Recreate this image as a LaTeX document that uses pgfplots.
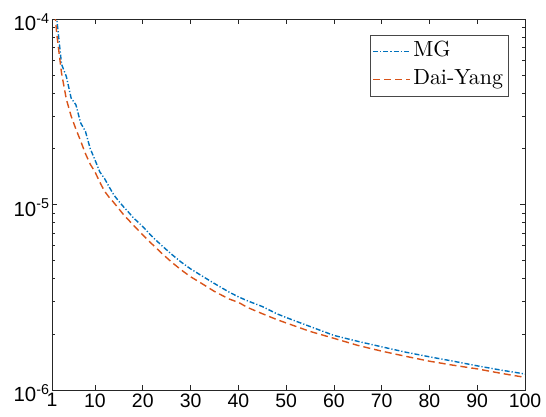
\documentclass[border=0pt]{standalone}
\usepackage{pgfplots}
\pgfplotsset{compat=1.18}
\usepackage{fontspec}
\newfontfamily\arial{Liberation Sans}
\newfontfamily\lmten{lmroman10-regular}[Extension=.otf]
\newcommand{\legfont}{\lmten\fontsize{22}{24}\selectfont}
\definecolor{mgblue}{rgb}{0,0.447,0.741}
\definecolor{dyorange}{rgb}{0.85,0.325,0.098}
\definecolor{axgray}{rgb}{0.15,0.15,0.15}
\tikzset{
  mgstyle/.style={draw=mgblue, line width=1.4bp, dash pattern=on 5bp off 2bp on 1.2bp off 2bp},
  dystyle/.style={draw=dyorange, line width=1.4bp, dash pattern=on 7bp off 4bp},
}
\begin{document}
\begin{tikzpicture}
\begin{axis}[
  scale only axis,
  width=473bp, height=371bp,
  ymode=log,
  xmin=1, xmax=100, ymin=1e-6, ymax=1e-4,
  xtick={1,10,20,30,40,50,60,70,80,90,100},
  ytick={1e-6,1e-5,1e-4},
  yticklabels={10\textsuperscript{-6},10\textsuperscript{-5},10\textsuperscript{-4}},
  /pgf/number format/assume math mode=true,
  x tick label style={font=\arial\fontsize{19.5}{21}\selectfont, yshift=0bp},
  y tick label style={font=\arial\fontsize{20.5}{22}\selectfont, xshift=1bp, yshift=-3bp},
  tick align=inside,
  tick pos=both,
  major tick length=5bp,
  minor tick length=3bp,
  axis line style={axgray, line width=0.6bp},
  every tick/.style={axgray, line width=0.6bp},
  legend style={at={(0.964,0.957)}, anchor=north east, draw=axgray!85,
    inner xsep=2.5bp, inner ysep=2.5bp,
    row sep=0bp, column sep=0bp,
    nodes={inner xsep=2.2bp, inner ysep=3.2bp, text height=15.6bp, text depth=6bp},
    cells={anchor=west}},
]
\addplot[mgstyle, legend image code/.code={\draw[mgstyle, line width=1.6bp] (0bp,0bp) -- (37bp,0bp);}] coordinates {
(1,2.0e-4) (2,1.0e-4) (3,5.7e-5) (4,4.9e-5) (5,3.75e-5) (6,3.45e-5) (7,2.75e-5)
(8,2.48e-5) (9,2.0e-5) (10,1.74e-5) (11,1.5e-5) (12,1.38e-5) (13,1.24e-5)
(14,1.12e-5) (15,1.04e-5) (16,9.7e-6) (17,9.1e-6) (18,8.5e-6) (20,7.6e-6)
(22,6.7e-6) (24,6.0e-6) (26,5.4e-6) (28,4.9e-6) (30,4.5e-6) (32,4.18e-6)
(35,3.75e-6) (38,3.38e-6) (40,3.18e-6) (42,3.02e-6) (45,2.82e-6) (48,2.58e-6)
(50,2.46e-6) (55,2.2e-6) (60,1.97e-6) (65,1.83e-6) (70,1.71e-6) (75,1.6e-6)
(80,1.51e-6) (85,1.43e-6) (90,1.35e-6) (95,1.28e-6) (100,1.22e-6)
};
\addlegendentry{\legfont MG}
\addplot[dystyle, legend image code/.code={\draw[dystyle, line width=1.6bp] (0bp,0bp) -- (37bp,0bp);}] coordinates {
(1,1.6e-4) (2,8.3e-5) (3,5.1e-5) (4,3.7e-5) (5,3.0e-5) (6,2.55e-5) (7,2.2e-5)
(8,1.88e-5) (9,1.65e-5) (10,1.5e-5) (11,1.32e-5) (12,1.18e-5) (13,1.09e-5)
(14,1.02e-5) (16,8.8e-6) (18,7.76e-6) (20,6.85e-6) (22,6.1e-6) (24,5.45e-6)
(26,4.9e-6) (28,4.45e-6) (30,4.08e-6) (32,3.8e-6) (35,3.4e-6) (38,3.1e-6)
(40,2.97e-6) (42,2.78e-6) (45,2.58e-6) (48,2.4e-6) (50,2.3e-6) (55,2.07e-6)
(60,1.9e-6) (65,1.74e-6) (70,1.62e-6) (75,1.52e-6) (80,1.43e-6) (85,1.36e-6)
(90,1.3e-6) (95,1.23e-6) (100,1.17e-6)
};
\addlegendentry{\legfont Dai-Yang}
\end{axis}
\path ([xshift=-52bp,yshift=-27bp]current axis.south west) rectangle ([xshift=21bp,yshift=19bp]current axis.north east);
\end{tikzpicture}
\end{document}
